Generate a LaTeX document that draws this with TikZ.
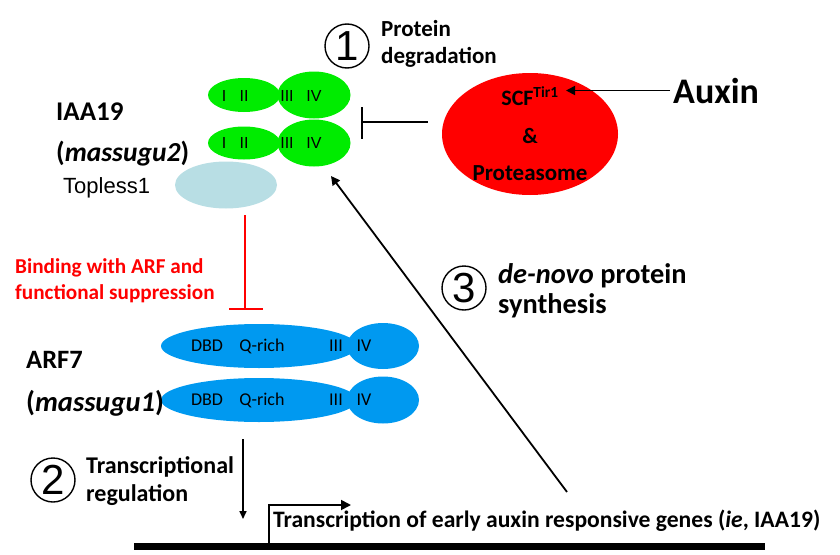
\documentclass[tikz,border=0pt]{standalone}
\usepackage{fontspec}
\setmainfont{Carlito}
\newfontfamily\arialf{Liberation Sans}
\usetikzlibrary{shapes.geometric,arrows.meta}
\definecolor{ggreen}{RGB}{0,236,0}
\definecolor{rred}{RGB}{255,0,0}
\definecolor{bblue}{RGB}{0,153,240}
\definecolor{lblue}{RGB}{184,222,228}
\newcommand{\fs}[1]{\fontsize{#1}{#1}\selectfont}
\tikzset{
  ell/.style={ellipse, inner sep=0pt, draw=none},
  txt/.style={anchor=base west, inner sep=0pt},
  ctr/.style={anchor=base, inner sep=0pt},
  dom/.style={anchor=center, inner sep=0pt, font=\arialf\fs{16}},
  bdom/.style={anchor=center, inner sep=0pt, font=\fs{18}},
  numc/.style={circle, draw, line width=1.4pt, minimum size=44pt, inner sep=0pt, font=\arialf\fs{42}},
  arr/.style={line width=1.8pt, -{Triangle[length=9pt,width=9pt]}},
  blk/.style={line width=1.8pt},
}
\begin{document}
\begin{tikzpicture}[x=1pt,y=-1pt]
\useasboundingbox (0,0) rectangle (840,554);
% ---- IAA19 green domains
\node[ell, fill=ggreen, minimum width=72pt, minimum height=34pt] (g1a) at (244,95) {};
\node[ell, fill=ggreen, minimum width=73pt, minimum height=47pt] (g1b) at (314,95) {};
\node[ell, fill=ggreen, minimum width=72pt, minimum height=33pt] (g2a) at (244,143) {};
\node[ell, fill=ggreen, minimum width=73pt, minimum height=47pt] (g2b) at (314,143) {};
\node[dom] (g1i) at (224,96) {I};
\node[dom] (g1ii) at (244,96) {II};
\node[dom] (g1iii) at (287,96) {III};
\node[dom] (g1iv) at (314,96) {IV};
\node[dom] (g2i) at (224,143) {I};
\node[dom] (g2ii) at (244,143) {II};
\node[dom] (g2iii) at (287,143) {III};
\node[dom] (g2iv) at (314,143) {IV};
% ---- Topless
\node[ell, fill=lblue, minimum width=102pt, minimum height=47pt] (tpl) at (226,185) {};
\node[txt, font=\arialf\fs{22}] (tpltxt) at (63,193) {Topless1};
\node[txt, font=\bfseries\fs{27}] (iaa) at (56,120) {IAA19};
\node[txt, font=\bfseries\fs{27.5}] (mss2) at (56,161) {(\textit{massugu2})};
% ---- step 1
\node[numc] (c1) at (347,46) {1};
\node[txt, font=\bfseries\fs{23}] (pd1) at (381,36) {Protein};
\node[txt, font=\bfseries\fs{23}] (pd2) at (381,63) {degradation};
% ---- SCF ellipse
\node[ell, fill=rred, minimum width=176pt, minimum height=122pt] (scf) at (530,134) {};
\node[ctr, font=\bfseries\fs{22}] (scft) at (530,105) {SCF\textsuperscript{Tir1}};
\node[ctr, font=\bfseries\fs{22}] (amp) at (530,143) {\&};
\node[ctr, font=\bfseries\fs{23}] (prot) at (530,180) {Proteasome};
\node[txt, font=\bfseries\fs{36}] (aux) at (673,103) {Auxin};
\coordinate (auxtip) at (566,90.5);
\draw[arr] (aux.west |- auxtip) ++(-3,0) -- (auxtip);
% inhibition of IAA19
\coordinate (tbar) at (362,122);
\draw[blk] (scf.west |- tbar) ++(-14,0) -- (tbar);
\draw[blk] (362,107) -- (362,139);
% ---- red suppression
\coordinate (rtop) at (245,215);
\coordinate (rbot) at (245,309);
\draw[rred, line width=2.6pt] (rtop) -- (rbot);
\draw[rred, line width=2.6pt] (229,309) -- (263,309);
\node[txt, text=rred, font=\bfseries\fs{21.2}] (red1) at (15,273) {Binding with ARF and};
\node[txt, text=rred, font=\bfseries\fs{21.2}] (red2) at (15,299) {functional suppression};
% ---- ARF7 blue domains
\node[ell, fill=bblue, minimum width=196pt, minimum height=44pt] (b1a) at (259,346) {};
\node[ell, fill=bblue, minimum width=72pt, minimum height=46pt] (b1b) at (383,346) {};
\node[ell, fill=bblue, minimum width=196pt, minimum height=44pt] (b2a) at (259,400) {};
\node[ell, fill=bblue, minimum width=72pt, minimum height=47pt] (b2b) at (383,400) {};
\node[bdom] (b1d) at (207,346) {DBD};
\node[bdom] (b1q) at (262,346) {Q-rich};
\node[bdom] (b1iii) at (336,346) {III};
\node[bdom] (b1iv) at (364,346) {IV};
\node[bdom] (b2d) at (207,400) {DBD};
\node[bdom] (b2q) at (262,400) {Q-rich};
\node[bdom] (b2iii) at (336,400) {III};
\node[bdom] (b2iv) at (364,400) {IV};
\node[txt, font=\bfseries\fs{26.5}] (arf) at (26,368) {ARF7};
\node[txt, font=\bfseries\fs{28.5}] (mss1) at (26,411) {(\textit{massugu1})};
% ---- step 3
\node[numc] (c3) at (464,288) {3};
\node[txt, font=\bfseries\fs{28.4}] (dn1) at (498,283) {\textit{de-novo} protein};
\node[txt, font=\bfseries\fs{28.4}] (dn2) at (498,313) {synthesis};
\coordinate (synb) at (567,492);
\coordinate (synt) at (331,176);
\draw[arr] (synb) -- (synt);
% ---- step 2
\node[numc] (c2) at (53,480) {2};
\node[txt, font=\bfseries\fs{24}] (tr1) at (86,473) {Transcriptional};
\node[txt, font=\bfseries\fs{24}] (tr2) at (86,501) {regulation};
\coordinate (dtop) at (243,439);
\coordinate (dbot) at (243,519);
\draw[line width=1.6pt, -{Triangle[length=8pt,width=7pt]}] (dtop) -- (dbot);
% ---- gene
\coordinate (gl) at (134,546.5);
\coordinate (gr) at (765,546.5);
\draw[line width=7pt] (gl) -- (gr);
\coordinate (tss) at (269,546);
\coordinate (tssend) at (351,505);
\draw[line width=1.8pt, -{Triangle[length=10pt,width=10pt]}] (tss) |- (tssend);
\node[txt, font=\bfseries\fs{23.6}] (gene) at (273,527) {Transcription of early auxin responsive genes (\textit{ie}, IAA19)};
\end{tikzpicture}
\end{document}
